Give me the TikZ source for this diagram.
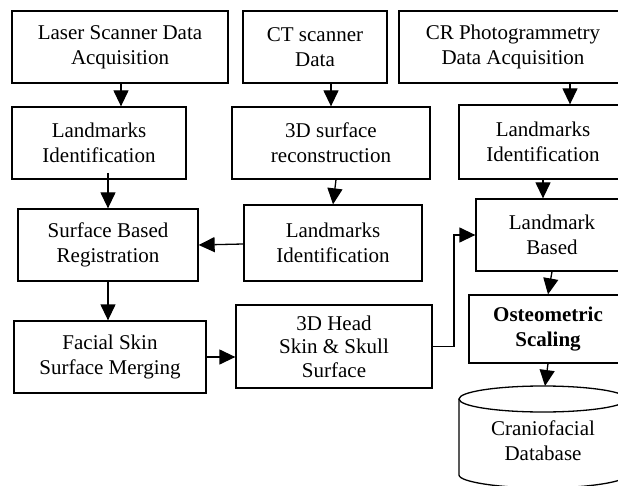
\documentclass[tikz,border=0pt]{standalone}
\usepackage{fontspec}
\setmainfont{Liberation Serif}
\usetikzlibrary{arrows.meta}
\begin{document}
\begin{tikzpicture}[x=1pt,y=-1pt,
  box/.style={draw,line width=1.3pt,rectangle,inner sep=0pt,align=center,
    font=\fontsize{21}{25}\selectfont},
  arr/.style={line width=1.3pt,-{Triangle[width=15pt,length=16pt]}},
  line/.style={line width=1.3pt}]
\useasboundingbox (0,0) rectangle (618,486);
\clip (0,0) rectangle (618,486);
% top row
\node[box,minimum width=216pt,minimum height=72pt] (b1) at (120,47) {Laser Scanner Data\\Acquisition};
\node[box,minimum width=144pt,minimum height=72pt] (b2) at (315,47) {CT scanner\\Data};
\node[box,minimum width=228pt,minimum height=72pt] (b3) at (513,47) {CR Photogrammetry\\Data Acquisition};
% second row
\node[box,minimum width=174pt,minimum height=72pt] (b4) at (99,143) {Landmarks\\Identification};
\node[box,minimum width=198pt,minimum height=72pt] (b5) at (331,143) {3D surface\\reconstruction};
\node[box,minimum width=168pt,minimum height=74pt] (b6) at (543,142) {Landmarks\\Identification};
% third row
\node[box,minimum width=180pt,minimum height=72pt] (b7) at (108,245) {Surface Based\\Registration};
\node[box,minimum width=178pt,minimum height=76pt] (b8) at (333,243) {Landmarks\\Identification};
\node[box,minimum width=152pt,minimum height=72pt] (b9) at (552,235) {Landmark\\Based};
% fourth row
\node[box,minimum width=192pt,minimum height=72pt] (b10) at (110,357) {Facial Skin\\Surface Merging};
\node[box,minimum width=196pt,minimum height=83pt,font=\fontsize{21}{23.5}\selectfont] (b11) at (334,346.5) {3D Head\\Skin \& Skull\\Surface};
\node[box,minimum width=158pt,minimum height=68pt,font=\fontsize{21}{25}\selectfont\bfseries] (b12) at (548,329) {Osteometric\\Scaling};
% database cylinder
\draw[line] (459,399) -- (459,475) .. controls (459,482) and (500,488) .. (543,488)
  .. controls (586,488) and (627,482) .. (627,475) -- (627,399);
\draw[line,fill=white] (543,399) ellipse [x radius=84, y radius=13];
\node[align=center,font=\fontsize{21}{25}\selectfont] (db) at (543,441) {Craniofacial\\Database};
\coordinate (dbtop) at (545,386);
% connectors
\draw[arr] (b1.south -| 121,0) -- (b4.north -| 121,0);
\draw[arr] (108,173) -- (b7.north -| 108,0);
\draw[arr] (b2.south -| 331,0) -- (b5.north -| 331,0);
\draw[arr] (b5.south -| 336,0) -- (b8.north -| 333,0);
\draw[arr] (b8.west |- 0,244) -- (b7.east |- 0,245);
\draw[arr] (b3.south -| 570,0) -- (b6.north -| 570,0);
\draw[arr] (b6.south -| 543,0) -- (b9.north -| 543,0);
\draw[arr] (b7.south -| 108,0) -- (b10.north -| 108,0);
\draw[arr] (b10.east) -- (b11.west |- b10.east);
\draw[arr] (b11.east) -- (b11.east -| 454,0) |- (b9.west);
\draw[arr] (b9.south) -- (b12.north -| 548,0);
\draw[arr] (b12.south) -- (dbtop);
\end{tikzpicture}
\end{document}
